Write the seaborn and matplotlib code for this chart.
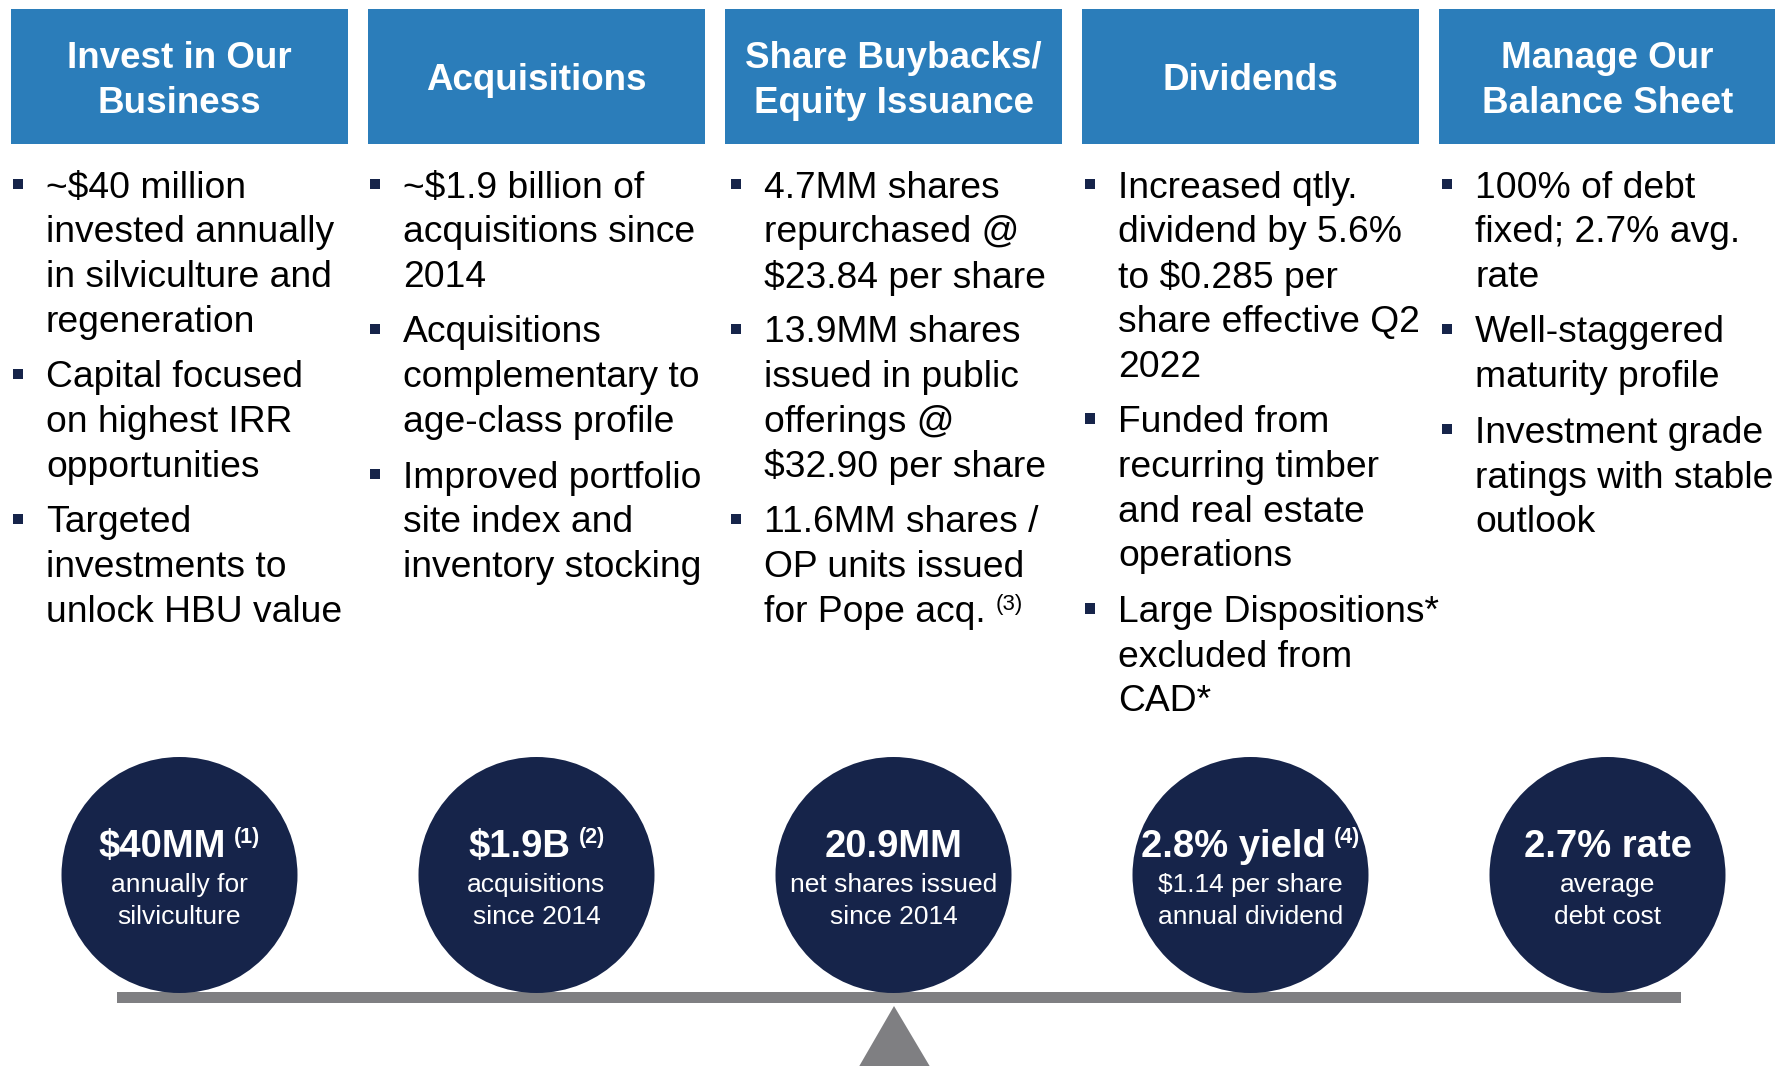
import matplotlib
matplotlib.use("Agg")
import matplotlib.pyplot as plt
import seaborn as sns
import pandas as pd
from matplotlib.patches import Rectangle, Polygon

# column headers
headers = ["Invest in Our\nBusiness", "Acquisitions", "Share Buybacks/\nEquity Issuance",
           "Dividends", "Manage Our\nBalance Sheet"]

# bullet texts per column (line breaks as in the slide)
bullets = [
    ["~$40 million\ninvested annually\nin silviculture and\nregeneration",
     "Capital focused\non highest IRR\nopportunities",
     "Targeted\ninvestments to\nunlock HBU value"],
    ["~$1.9 billion of\nacquisitions since\n2014",
     "Acquisitions\ncomplementary to\nage-class profile",
     "Improved portfolio\nsite index and\ninventory stocking"],
    ["4.7MM shares\nrepurchased @\n$23.84 per share",
     "13.9MM shares\nissued in public\nofferings @\n$32.90 per share",
     "11.6MM shares /\nOP units issued\nfor Pope acq."],
    ["Increased qtly.\ndividend by 5.6%\nto $0.285 per\nshare effective Q2\n2022",
     "Funded from\nrecurring timber\nand real estate\noperations",
     "Large Dispositions*\nexcluded from\nCAD*"],
    ["100% of debt\nfixed; 2.7% avg.\nrate",
     "Well-staggered\nmaturity profile",
     "Investment grade\nratings with stable\noutlook"],
]
# footnote after last bullet line (column index -> mark)
bullet_notes = {2: "(3)"}

# circle highlights
circle_main = ["$40MM", "$1.9B", "20.9MM", "2.8% yield", "2.7% rate"]
circle_sup = ["(1)", "(2)", "", "(4)", ""]
circle_sub = ["annually for\nsilviculture", "acquisitions\nsince 2014", "net shares issued\nsince 2014",
              "$1.14 per share\nannual dividend", "average\ndebt cost"]

BLUE = "#2B7DBA"
NAVY = "#16244A"
GRAY = "#7F7F82"

sns.set_theme(style="white")
plt.rcParams["font.family"] = ["Liberation Sans", "DejaVu Sans"]

W, H = 1775, 1066
fig = plt.figure(figsize=(W / 100, H / 100), dpi=100)
ax = fig.add_axes([0, 0, 1, 1])
ax.set_xlim(0, W)
ax.set_ylim(H, 0)
ax.axis("off")

col_left = [11 + i * 357 for i in range(5)]
col_w = 337
centers = [l + col_w / 2 for l in col_left]
text_indent = [35, 35, 39, 36, 36]

# header boxes
for l, c, h in zip(col_left, centers, headers):
    ax.add_patch(Rectangle((l, 9), col_w, 135, color=BLUE, lw=0))
    ax.text(c, 81, h, ha="center", va="center", color="white", fontsize=26.5,
            fontweight="bold", linespacing=1.38)

renderer = fig.canvas.get_renderer()

# bullets
line_step, bullet_gap = 44.8, 10.6
sq = []
for ci, items in enumerate(bullets):
    x_text = col_left[ci] + text_indent[ci]
    y = 188
    for item in items:
        sq.append({"x": x_text - 28, "y": y - 4})
        for ln in item.split("\n"):
            t = ax.text(x_text, y, ln, ha="left", va="center", color="black", fontsize=26.8)
            last_t, last_y = t, y
            y += line_step
        y += bullet_gap
    if ci in bullet_notes:
        bb = last_t.get_window_extent(renderer)
        ax.text(x_text + bb.width + 10, last_y - 8, bullet_notes[ci], ha="left", va="center",
                fontsize=16, color="black")

sq = pd.DataFrame(sq)
sns.scatterplot(data=sq, x="x", y="y", marker="s", s=55, color=NAVY, edgecolor="none", ax=ax,
                legend=False)

# beam and fulcrum
ax.add_patch(Rectangle((117, 992), 1564, 11, color=GRAY, lw=0))
ax.add_patch(Polygon([(894, 1006), (857, 1070), (932, 1070)], closed=True, color=GRAY, lw=0))

# circles
circ = pd.DataFrame({"x": centers, "y": [875] * 5})
sns.scatterplot(data=circ, x="x", y="y", s=(2 * 118 * 0.72) ** 2, color=NAVY, edgecolor="none",
                ax=ax, legend=False, zorder=3)

for c, m, s, sub in zip(centers, circle_main, circle_sup, circle_sub):
    tm = ax.text(0, 847, m, ha="left", va="center", color="white", fontsize=27.5,
                 fontweight="bold", zorder=4)
    wm = tm.get_window_extent(renderer).width
    ws = 0
    if s:
        ts = ax.text(0, 838, s, ha="left", va="center", color="white", fontsize=15.5,
                     fontweight="bold", zorder=4)
        ws = ts.get_window_extent(renderer).width + 8
    x0 = c - (wm + ws) / 2
    tm.set_x(x0)
    if s:
        ts.set_x(x0 + wm + 8)
    for j, ln in enumerate(sub.split("\n")):
        ax.text(c, 885 + j * 32, ln, ha="center", va="center", color="white", fontsize=19,
                zorder=4)

fig.savefig("out.png", dpi=100)
